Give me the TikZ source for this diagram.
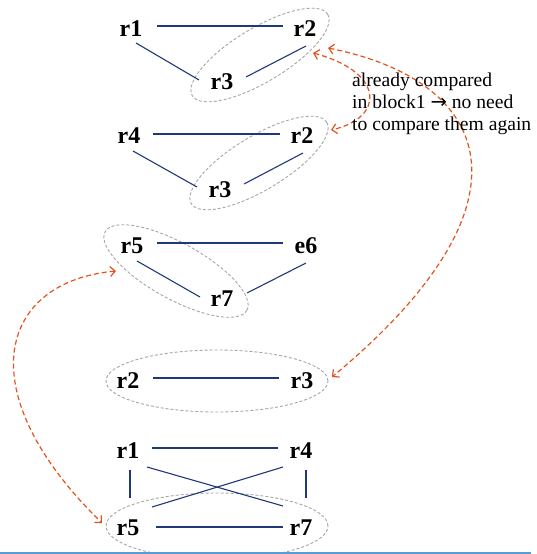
\documentclass[tikz,border=0pt]{standalone}
\usepackage{fontspec}
\setmainfont{Liberation Serif}
\newfontfamily\symfont{DejaVu Sans}
\usetikzlibrary{shapes.geometric,arrows.meta,calc}
\definecolor{navy}{RGB}{31,56,120}
\definecolor{arr}{RGB}{228,83,30}
\definecolor{ell}{RGB}{165,165,165}
\definecolor{barblue}{RGB}{91,155,213}
\begin{document}
\begin{tikzpicture}[x=1pt,y=-1pt,
 lab/.style={font=\fontsize{24}{28}\selectfont\bfseries, inner sep=0pt},
 edge/.style={draw=navy, line width=1.1pt},
 grp/.style={draw=ell, dash pattern=on 3pt off 2pt, line width=0.9pt, ellipse, inner sep=0pt},
 cmp/.style={draw=arr, line width=1.2pt, dash pattern=on 5pt off 3pt,
   {Straight Barb[length=5pt,width=10pt]}-{Straight Barb[length=5pt,width=10pt]}}]
\useasboundingbox (0,0) rectangle (537,554);

% group ellipses
\node[grp, minimum width=158, minimum height=54, rotate=31] (g1) at (260,55) {};
\node[grp, minimum width=158, minimum height=54, rotate=31] (g2) at (259,163) {};
\node[grp, minimum width=162, minimum height=56, rotate=-29] (g3) at (176,271) {};
\node[grp, minimum width=222, minimum height=62] (g4) at (217,381) {};
\node[grp, minimum width=222, minimum height=66] (g5) at (217,526) {};

% labels
\node[lab] (r1) at (131,29) {r1};
\node[lab] (r2) at (305,29) {r2};
\node[lab] (r3) at (222,82) {r3};
\node[lab] (r4) at (129,136) {r4};
\node[lab] (r2b) at (302,136) {r2};
\node[lab] (r3b) at (220,190) {r3};
\node[lab] (r5) at (132,246) {r5};
\node[lab] (e6) at (306,246) {e6};
\node[lab] (r7) at (222,299) {r7};
\node[lab] (r2c) at (128,381) {r2};
\node[lab] (r3c) at (302,381) {r3};
\node[lab] (r1d) at (128,451) {r1};
\node[lab] (r4d) at (301,451) {r4};
\node[lab] (r5d) at (128,528) {r5};
\node[lab] (r7d) at (301,528) {r7};

% edges
\draw[edge] ($(r1)+(26,-3)$) -- ($(r2)+(-22,-3)$);
\draw[edge] ($(r1)+(5,14)$) -- ($(r3)+(-23,-2)$);
\draw[edge] ($(r3)+(24,-5)$) -- ($(r2)+(1,17)$);

\draw[edge] ($(r4)+(24,-2)$) -- ($(r2b)+(-22,-2)$);
\draw[edge] ($(r4)+(4,15)$) -- ($(r3b)+(-23,-3)$);
\draw[edge] ($(r3b)+(24,-6)$) -- ($(r2b)+(1,17)$);

\draw[edge] ($(r5)+(25,-3)$) -- ($(e6)+(-23,-3)$);
\draw[edge] ($(r5)+(5,15)$) -- ($(r7)+(-22,-2)$);
\draw[edge] ($(r7)+(25,-6)$) -- ($(e6)+(0,17)$);

\draw[edge] ($(r2c)+(25,-3)$) -- ($(r3c)+(-23,-3)$);

\draw[edge] ($(r1d)+(24,-3)$) -- ($(r4d)+(-23,-3)$);
\draw[edge] ($(r1d)+(2,19)$) -- ($(r5d)+(2,-30)$);
\draw[edge] ($(r4d)+(5,19)$) -- ($(r7d)+(5,-30)$);
\draw[edge] ($(r1d)+(19,16)$) -- ($(r7d)+(-18,-22)$);
\draw[edge] ($(r5d)+(24,-21)$) -- ($(r4d)+(-18,16)$);
\draw[edge] ($(r5d)+(28,-1)$) -- ($(r7d)+(-18,-1)$);

% comparison arrows
\coordinate (a1) at (328,48);
\coordinate (a2) at (313,53);
\coordinate (b1) at (331,130);
\coordinate (c1) at (332,377);
\coordinate (d1) at (116,271);
\coordinate (d2) at (102,523);
\draw[cmp] (a1) .. controls (490,80) and (545,200) .. (c1);
\draw[cmp] (a2) .. controls (385,72) and (385,118) .. (b1);
\draw[cmp] (d1) .. controls (-2,282) and (-32,392) .. (d2);

% note
\node[anchor=north west, align=left, inner sep=0pt, font=\fontsize{19.6}{22}\selectfont] (note) at (352,73)
  {already compared\\in block1 {\symfont →} no need\\to compare them again};

% bottom rule
\coordinate (bl) at (0,553);
\coordinate (br) at (531,553);
\draw[barblue, line width=2pt] (bl) -- (br);
\end{tikzpicture}
\end{document}
